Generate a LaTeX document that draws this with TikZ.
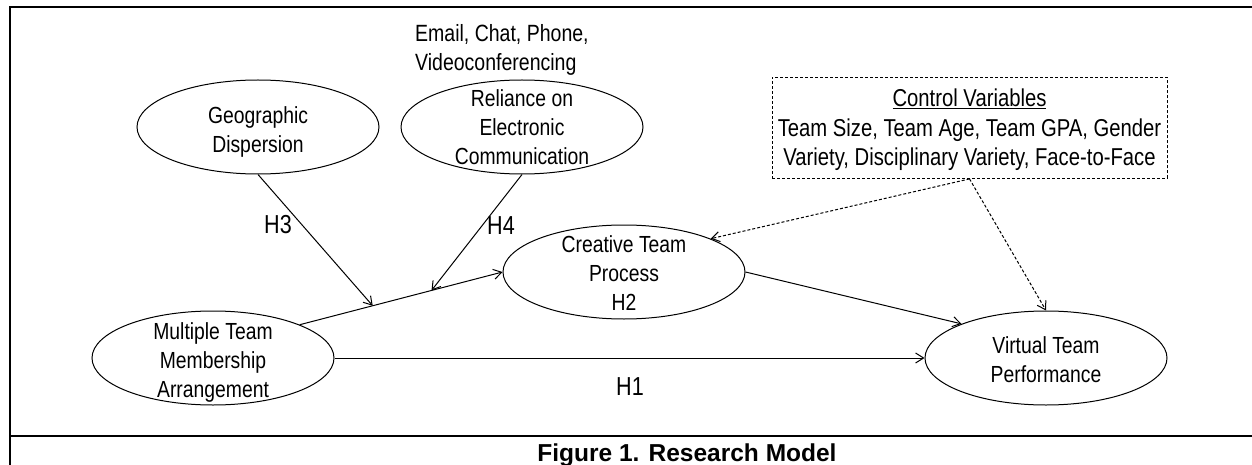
\documentclass[tikz,border=0pt]{standalone}
\usepackage{fontspec}
\setmainfont[FakeStretch=0.83]{Liberation Sans}
\newfontfamily\captionfont{Liberation Sans}
\usetikzlibrary{shapes.geometric,arrows.meta}

\begin{document}
\begin{tikzpicture}[x=1pt,y=-1pt,
  construct/.style={ellipse, draw, line width=1pt, minimum width=242pt,
    minimum height=94pt, inner sep=0pt},
  txt/.style={font=\fontsize{23.3}{29}\selectfont, align=center, inner sep=0pt},
  hyp/.style={font=\fontsize{26}{29}\selectfont, inner sep=0pt},
  link/.style={-{Straight Barb[length=8pt,width=10pt]}, line width=1pt},
  ctrl/.style={link, dash pattern=on 3pt off 2pt},
  frame/.style={line width=2pt},
]
\useasboundingbox (0,0) rectangle (1252,465);

% outer frame and caption row
\draw[frame] (10,465) -- (10,7) -- (1252,7);
\draw[frame] (10,436) -- (1252,436);
\node[font=\captionfont\bfseries\fontsize{24.5}{28}\selectfont, inner sep=0pt,
  anchor=base] (caption) at (687,461) {Figure 1. Research Model};

% constructs
\node[construct, label={[txt, yshift=-5pt]center:Geographic\\Dispersion}] (geo) at (258,127) {};
\node[construct, label={[txt]center:Reliance on\\Electronic\\Communication}] (rel) at (522,127) {};
\node[construct, label={[txt, yshift=-4pt]center:Multiple Team\\Membership\\Arrangement}] (mtm) at (213,358) {};
\node[construct, label={[txt, yshift=-1pt]center:Creative Team\\Process\\H2}] (ctp) at (624,272) {};
\node[construct, label={[txt, yshift=-2pt]center:Virtual Team\\Performance}] (vtp) at (1046,358) {};

% media note
\node[txt, font=\fontsize{23.5}{29}\selectfont, align=left, anchor=north west]
  (media) at (415,24) {Email, Chat, Phone,\\Videoconferencing};

% control variables box
\node[draw, line width=0.8pt, dash pattern=on 3pt off 2pt, minimum width=395pt,
  minimum height=101pt, inner sep=0pt,
  label={[txt, font=\fontsize{24.4}{29.5}\selectfont, yshift=-2pt]center:\underline{Control Variables}\\Team Size, Team Age, Team GPA, Gender\\Variety, Disciplinary Variety, Face-to-Face}]
  (ctl) at (969.5,128) {};

% main paths
\path (mtm.21) -- (ctp.west) coordinate[pos=0.36] (m3) coordinate[pos=0.65] (m4);
\draw[link] (mtm.21) -- (ctp.west);
\draw[link] (mtm.east) -- (vtp.west);
\draw[link] (ctp.east) -- (vtp.158);
\draw[link] (geo.south) -- (m3);
\draw[link] (rel.south) -- (m4);

% control paths
\draw[ctrl] (ctl.south) -- (ctp.21);
\draw[ctrl] (ctl.south) -- (vtp.north);

% hypothesis labels
\node[hyp] (h3) at (278,225) {H3};
\node[hyp] (h4) at (501,226) {H4};
\node[hyp] (h1) at (630,387) {H1};
\end{tikzpicture}
\end{document}
